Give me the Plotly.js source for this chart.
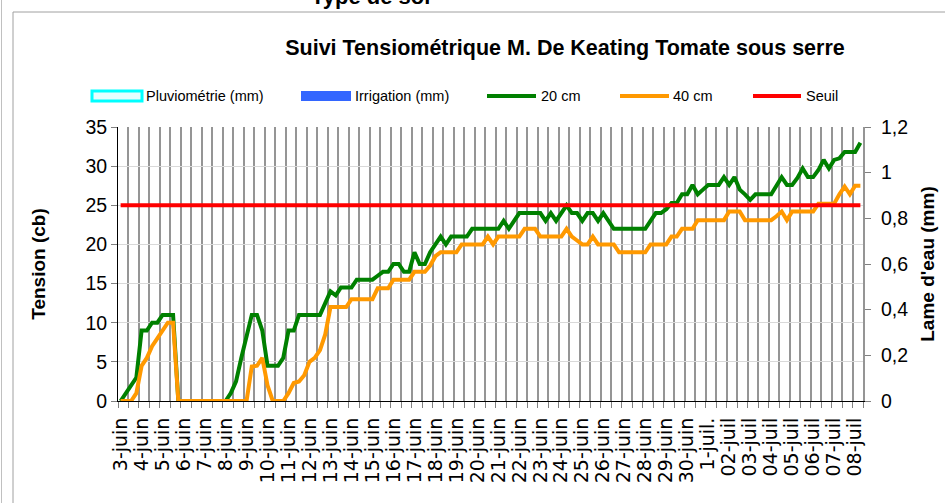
<!DOCTYPE html>
<html>
<head>
<meta charset="utf-8">
<script src="https://cdn.plot.ly/plotly-3.0.1.min.js"></script>
<style>html,body{margin:0;padding:0;background:#fff;}#chart{width:945px;height:503px;}</style>
</head>
<body>
<div id="chart"></div>
<script>
// Day labels (one label every 4 readings)
const dates = ['3-juin','4-juin','5-juin','6-juin','7-juin','8-juin','9-juin','10-juin','11-juin','12-juin',
  '13-juin','14-juin','15-juin','16-juin','17-juin','18-juin','19-juin','20-juin','21-juin','22-juin',
  '23-juin','24-juin','25-juin','26-juin','27-juin','28-juin','29-juin','30-juin','1-juil.','02-juil',
  '03-juil','04-juil','05-juil','06-juil','07-juil','08-juil'];

// Tension at 20 cm (cb), one value per reading
const t20 = [
  0,1,2,3,9,9,10,10,11,11,
  11,0,0,0,0,0,0,0,0,0,
  0,1,2.5,5.5,8.5,11,11,9,4.5,4.5,
  4.5,5.5,9,9,11,11,11,11,11,12.5,
  14,13.5,14.5,14.5,14.5,15.5,15.5,15.5,15.5,16,
  16.5,16.5,17.5,17.5,16.5,16.5,19,17.5,17.5,19,
  20,21,20,21,21,21,21,22,22,22,
  22,22,22,23,22,23,24,24,24,24,
  24,23,24,23,24,25,24,24,23,24,
  24,23,24,23,22,22,22,22,22,22,
  22,23,24,24,24.5,25.3,25.3,26.4,26.4,27.6,
  26.4,27,27.6,27.6,27.6,28.6,27.6,28.6,27,26.4,
  25.7,26.4,26.4,26.4,26.4,27.5,28.6,27.6,27.6,28.5,
  29.7,28.6,28.6,29.5,30.8,29.7,30.8,31,31.8,31.8,
  31.8,33
];

// Tension at 40 cm (cb)
const t40 = [
  0,0,0,1,4.5,5.5,7,8,9,10,
  10,0,0,0,0,0,0,0,0,0,
  0,0,0,0,0,4.4,4.5,5.5,2,0,
  0,0,1,2.3,2.5,3.3,5,5.5,6.5,8.5,
  12,12,12,12,13,13,13,13,13,14.4,
  14.4,14.4,15.5,15.5,15.5,15.5,16.5,16.5,16.5,17.3,
  18.5,19,19,19,19,20,20,20,20,20,
  21,20,21,21,21,21,21,22,22,22,
  21,21,21,21,21,22,21,20.5,20,20,
  21,20,20,20,20,19,19,19,19,19,
  19,20,20,20,20,21,21,22,22,22,
  23.1,23.1,23.1,23.1,23.1,23.1,24.2,24.2,24.2,23.1,
  23.1,23.1,23.1,23.1,23.1,23.6,24.2,23.1,24.2,24.2,
  24.2,24.2,24.2,25.2,25.2,25.2,25.2,26.4,27.4,26.4,
  27.5,27.5
];

// Threshold (cb)
const seuil = 25;

// Series names
const names = ['Pluviométrie (mm)', 'Irrigation (mm)', '20 cm', '40 cm', 'Seuil'];
const colors = ['#00ffff', '#3366ff', '#008000', '#ff9900', '#ff0000'];

const idx = t20.map((v, i) => i);
const perLabel = 4;
const tickvals = dates.map((d, i) => i * perLabel);

// plot-area geometry in px
const W = 945, H = 503, L = 118, R = 863, T = 127, B = 401;
const px = X => (X - L) / (R - L);
const py = Y => (B - Y) / (B - T);

const font = 'Liberation Sans, Arial, sans-serif';
const xfont = 'DejaVu Sans, Liberation Sans, sans-serif';

const traces = [
  {type: 'bar', name: names[0], x: [], y: [], yaxis: 'y2', marker: {color: '#e6ffff', line: {color: colors[0], width: 3}}, showlegend: false},
  {type: 'bar', name: names[1], x: [], y: [], yaxis: 'y2', marker: {color: colors[1]}, showlegend: false},
  {type: 'scatter', mode: 'lines', name: names[2], x: idx, y: t20, line: {color: colors[2], width: 4}, showlegend: false},
  {type: 'scatter', mode: 'lines', name: names[3], x: idx, y: t40, line: {color: colors[3], width: 4}, showlegend: false},
  {type: 'scatter', mode: 'lines', name: names[4], x: [0, t20.length - 1], y: [seuil, seuil], line: {color: colors[4], width: 4}, showlegend: false}
];

// custom legend (row above the plot)
const legY = 96;
const legItems = [
  {kind: 'rect', x0: 92, x1: 142, tx: 145},
  {kind: 'rect', x0: 301, x1: 351, tx: 354},
  {kind: 'line', x0: 487, x1: 536, tx: 540},
  {kind: 'line', x0: 620, x1: 669, tx: 672},
  {kind: 'line', x0: 753, x1: 801, tx: 805}
];
const shapes = [];
const annotations = [];
legItems.forEach((it, i) => {
  if (it.kind === 'rect') {
    shapes.push({type: 'rect', xref: 'paper', yref: 'paper', x0: px(it.x0), x1: px(it.x1), y0: py(legY + 5), y1: py(legY - 5),
      fillcolor: i === 0 ? '#e6ffff' : colors[i], line: {color: colors[i], width: i === 0 ? 3 : 0}});
  } else {
    shapes.push({type: 'line', xref: 'paper', yref: 'paper', x0: px(it.x0), x1: px(it.x1), y0: py(legY), y1: py(legY),
      line: {color: colors[i], width: 4}});
  }
  annotations.push({xref: 'paper', yref: 'paper', x: px(it.tx), y: py(legY), xanchor: 'left', yanchor: 'middle',
    text: names[i], showarrow: false, font: {family: font, size: 14.5, color: '#000'}, borderpad: 0});
});

// chart frame
shapes.push({type: 'line', xref: 'paper', yref: 'paper', x0: px(13), x1: px(13), y0: py(12), y1: py(H), line: {color: '#a0a0a0', width: 1}});
shapes.push({type: 'line', xref: 'paper', yref: 'paper', x0: px(13), x1: px(W), y0: py(12), y1: py(12), line: {color: '#a0a0a0', width: 1}});
shapes.push({type: 'line', xref: 'paper', yref: 'paper', x0: px(1.5), x1: px(1.5), y0: py(0), y1: py(H), line: {color: '#c0c0c0', width: 1}});

// partially cut heading at the very top
annotations.push({xref: 'paper', yref: 'paper', x: px(370), y: py(10), xanchor: 'center', yanchor: 'bottom',
  text: '<b>Type de sol</b>', showarrow: false, font: {family: font, size: 22, color: '#000'}, borderpad: 0});

const layout = {
  width: W, height: H,
  margin: {l: L, r: W - R, t: T, b: H - B, pad: 0},
  paper_bgcolor: '#fff', plot_bgcolor: '#fff',
  font: {family: font, size: 19, color: '#000'},
  separators: ', ',
  showlegend: false,
  barmode: 'group',
  title: {text: '<b>Suivi Tensiométrique M. De Keating Tomate sous serre</b>', x: 565 / W, xanchor: 'center', xref: 'container',
    y: 1 - 47 / H, yanchor: 'middle', yref: 'container', font: {family: font, size: 21.5, color: '#000'}},
  xaxis: {
    range: [-0.5, t20.length - 0.5], tickmode: 'array', tickvals: tickvals, ticktext: dates, tickangle: -90,
    ticks: '', showgrid: false, zeroline: false, showline: true, linecolor: '#000', linewidth: 1, layer: 'below traces',
    tickfont: {family: xfont, size: 19, color: '#000'}, ticklabelstandoff: 8,
    minor: {tickmode: 'linear', tick0: -0.5, dtick: 2, showgrid: true, gridcolor: '#959595', gridwidth: 2,
      ticks: 'outside', ticklen: 6, tickcolor: '#808080', tickwidth: 1}
  },
  yaxis: {
    range: [0, 35], tick0: 0, dtick: 5, showgrid: true, gridcolor: '#d9d9d9', gridwidth: 1, zeroline: false,
    showline: true, linecolor: '#000', linewidth: 1, ticks: 'outside', ticklen: 6, tickcolor: '#808080', layer: 'below traces',
    tickfont: {family: font, size: 19.5, color: '#000'},
    title: {text: '<b>Tension (cb)</b>', font: {family: font, size: 19, color: '#000'}, standoff: 34}
  },
  yaxis2: {
    overlaying: 'y', side: 'right', anchor: 'x', range: [0, 1.2], tick0: 0, dtick: 0.2, showgrid: false, zeroline: false,
    showline: true, linecolor: '#959595', linewidth: 2, ticks: 'outside', ticklen: 6, tickcolor: '#808080',
    tickfont: {family: font, size: 19.5, color: '#000'}, ticklabelstandoff: 6,
    title: {text: "<b>Lame d'eau (mm)</b>", font: {family: font, size: 19, color: '#000'}, standoff: 14}
  },
  shapes: shapes,
  annotations: annotations
};

Plotly.newPlot('chart', traces, layout, {displayModeBar: false, staticPlot: true});
</script>
</body>
</html>
